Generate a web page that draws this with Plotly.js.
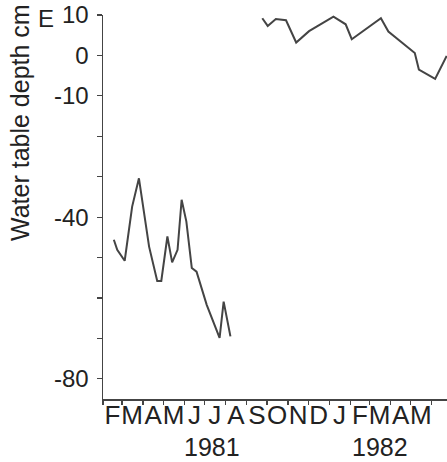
<!DOCTYPE html>
<html>
<head>
<meta charset="utf-8">
<script src="https://cdn.plot.ly/plotly-3.0.1.min.js"></script>
<style>html,body{margin:0;padding:0;background:#fff;}#chart{width:447px;height:462px;}</style>
</head>
<body>
<div id="chart"></div>
<script>
// Lower series (Feb–Aug 1981)
const lowerDates = ['1981-02-17','1981-02-22','1981-03-05','1981-03-16','1981-03-26','1981-04-10','1981-04-22','1981-04-28','1981-05-07','1981-05-14','1981-05-22','1981-05-28','1981-06-04','1981-06-12','1981-06-19','1981-07-04','1981-07-23','1981-07-29','1981-08-08'];
const lowerDepth = [-45.6,-48.1,-50.8,-37.4,-30.4,-47.3,-55.8,-55.8,-44.8,-51.2,-48.1,-35.7,-41.1,-52.6,-53.5,-61.7,-69.9,-60.9,-69.5];
// Upper series (Sep 1981 – Jun 1982)
const upperDates = ['1981-09-24','1981-10-02','1981-10-14','1981-10-29','1981-11-13','1981-12-02','1982-01-07','1982-01-25','1982-02-03','1982-03-18','1982-03-29','1982-05-07','1982-05-13','1982-06-06','1982-06-23'];
const upperDepth = [9.2,7.3,9.0,8.7,3.2,6.0,9.6,7.7,4.0,9.2,5.9,0.6,-3.5,-5.8,-0.1];
// Axis labels
const monthMid = ['1981-02-15','1981-03-16','1981-04-16','1981-05-16','1981-06-16','1981-07-16','1981-08-16','1981-09-16','1981-10-16','1981-11-16','1981-12-16','1982-01-16','1982-02-15','1982-03-16','1982-04-16','1982-05-16'];
const monthLabels = ['F','M','A','M','J','J','A','S','O','N','D','J','F','M','A','M'];
const yTickVals = [-80,-70,-60,-50,-40,-30,-20,-10,0,10];
const yTickText = ['-80','','','','-40','','','-10','0','10'];
const yearLabels = ['1981','1982'];
const yearPos = ['1981-07-12','1982-03-16'];

const FONT = 'Liberation Sans, Arial, Helvetica, sans-serif';
const INK = '#222';
const LINE = '#444';

const traces = [
  {x: lowerDates, y: lowerDepth, type: 'scatter', mode: 'lines', line: {color: LINE, width: 2}, hoverinfo: 'skip'},
  {x: upperDates, y: upperDepth, type: 'scatter', mode: 'lines', line: {color: LINE, width: 2}, hoverinfo: 'skip'}
];

const annotations = yearLabels.map((t, i) => ({
  text: t, x: yearPos[i], xref: 'x', y: -0.125, yref: 'paper',
  xanchor: 'center', yanchor: 'middle', showarrow: false,
  font: {family: FONT, size: 25, color: INK}
}));
annotations.push({
  text: 'Water table depth cm', textangle: -90, x: -0.241, xref: 'paper', y: 0.719, yref: 'paper',
  xanchor: 'center', yanchor: 'middle', showarrow: false,
  font: {family: FONT, size: 25, color: INK}
});
annotations.push({
  text: 'E', x: -0.166, xref: 'paper', y: 0.991, yref: 'paper',
  xanchor: 'center', yanchor: 'middle', showarrow: false,
  font: {family: FONT, size: 24, color: INK}
});

const layout = {
  width: 447, height: 462,
  margin: {l: 103, r: 0, t: 15, b: 63, pad: 0},
  paper_bgcolor: '#fff', plot_bgcolor: '#fff',
  showlegend: false,
  font: {family: FONT, size: 24, color: INK},
  xaxis: {
    type: 'date',
    range: ['1981-02-01', '1982-06-23 12:00'],
    tickmode: 'array', tickvals: monthMid, ticktext: monthLabels,
    tickangle: 0,
    ticks: '', showgrid: false, zeroline: false,
    showline: true, linecolor: LINE, linewidth: 1.5,
    tickfont: {family: FONT, size: 26, color: INK},
    ticklabelstandoff: -8,
    minor: {ticks: 'outside', ticklen: 4, tickwidth: 1.2, tickcolor: LINE, dtick: 'M1', tick0: '1981-02-01', showgrid: false}
  },
  yaxis: {
    range: [-85, 10],
    tickmode: 'array', tickvals: yTickVals, ticktext: yTickText,
    ticks: 'outside', ticklen: 5, tickwidth: 1.2, tickcolor: LINE,
    showgrid: false, zeroline: false,
    showline: true, linecolor: LINE, linewidth: 1.5,
    tickfont: {family: FONT, size: 24, color: INK},
    ticklabelstandoff: 3
  },
  annotations: annotations
};

Plotly.newPlot('chart', traces, layout, {staticPlot: true, displayModeBar: false});
</script>
</body>
</html>
